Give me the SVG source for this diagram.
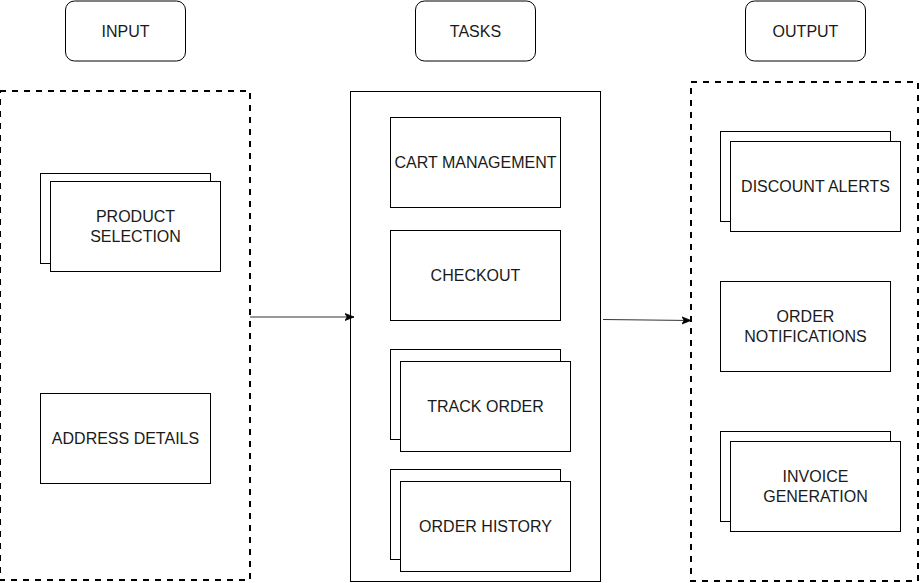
<svg xmlns="http://www.w3.org/2000/svg" width="922" height="583" viewBox="0 0 922 583">
<style>
.bx{fill:#fff;stroke:#000;stroke-width:1}
.hd{fill:#fff;stroke:#000;stroke-width:1}
.ds{fill:none;stroke:#000;stroke-width:2;stroke-dasharray:6 6}
.t{font-family:"Liberation Sans",Arial,sans-serif;font-size:16px;fill:#1a1a1a;text-anchor:middle}
.cn{fill:none;stroke:#333;stroke-width:1}
</style>
<defs>
<marker id="ah" markerUnits="userSpaceOnUse" markerWidth="10" markerHeight="10" refX="9" refY="5" orient="auto">
<path d="M0,1.5 L9,5 L0,8.5 L2.2,5 Z" fill="#000" stroke="#000" stroke-width="0.8"/>
</marker>
</defs>
<rect width="922" height="583" fill="#fff"/>
<g id="header-input"><rect class="hd" x="65.5" y="1" width="120" height="60" rx="9"/><text class="t" x="125.5" y="36.5">INPUT</text></g>
<g id="header-tasks"><rect class="hd" x="415.5" y="1" width="120" height="60" rx="9"/><text class="t" x="475.5" y="36.5">TASKS</text></g>
<g id="header-output"><rect class="hd" x="745.5" y="1" width="120" height="60" rx="9"/><text class="t" x="805.5" y="36.5">OUTPUT</text></g>
<g id="input-group"><rect class="ds" x="0" y="91" width="250" height="489"/></g>
<g id="tasks-group"><rect class="bx" x="350.5" y="91.5" width="250" height="490" fill="none"/></g>
<g id="output-group"><rect class="ds" x="691" y="82" width="227" height="499"/></g>
<g id="product-selection">
<rect class="bx" x="40.5" y="173.5" width="170" height="90"/>
<rect class="bx" x="50.5" y="181.5" width="170" height="90"/>
<text class="t" x="135.5" y="221.5">PRODUCT</text><text class="t" x="135.5" y="241.5">SELECTION</text>
</g>
<g id="address-details">
<rect class="bx" x="40.5" y="393.5" width="170" height="90"/>
<text class="t" x="125.5" y="444">ADDRESS DETAILS</text>
</g>
<g id="cart-management">
<rect class="bx" x="390.5" y="117.5" width="170" height="90"/>
<text class="t" x="475.5" y="168">CART MANAGEMENT</text>
</g>
<g id="checkout">
<rect class="bx" x="390.5" y="230.5" width="170" height="90"/>
<text class="t" x="475.5" y="281">CHECKOUT</text>
</g>
<g id="track-order">
<rect class="bx" x="390.5" y="349.5" width="170" height="90"/>
<rect class="bx" x="400.5" y="361.5" width="170" height="90"/>
<text class="t" x="485.5" y="412">TRACK ORDER</text>
</g>
<g id="order-history">
<rect class="bx" x="390.5" y="469.5" width="170" height="90"/>
<rect class="bx" x="400.5" y="481.5" width="170" height="90"/>
<text class="t" x="485.5" y="532">ORDER HISTORY</text>
</g>
<g id="discount-alerts">
<rect class="bx" x="720.5" y="131.5" width="170" height="90"/>
<rect class="bx" x="730.5" y="141.5" width="170" height="90"/>
<text class="t" x="815.5" y="192">DISCOUNT ALERTS</text>
</g>
<g id="order-notifications">
<rect class="bx" x="720.5" y="281.5" width="170" height="90"/>
<text class="t" x="805.5" y="321.5">ORDER</text><text class="t" x="805.5" y="341.5">NOTIFICATIONS</text>
</g>
<g id="invoice-generation">
<rect class="bx" x="720.5" y="431.5" width="170" height="90"/>
<rect class="bx" x="730.5" y="441.5" width="170" height="90"/>
<text class="t" x="815.5" y="481.5">INVOICE</text><text class="t" x="815.5" y="501.5">GENERATION</text>
</g>
<g id="connectors">
<line class="cn" x1="250" y1="317" x2="354" y2="317" marker-end="url(#ah)"/>
<line class="cn" x1="603" y1="319.5" x2="691" y2="320.5" marker-end="url(#ah)"/>
</g>
</svg>
